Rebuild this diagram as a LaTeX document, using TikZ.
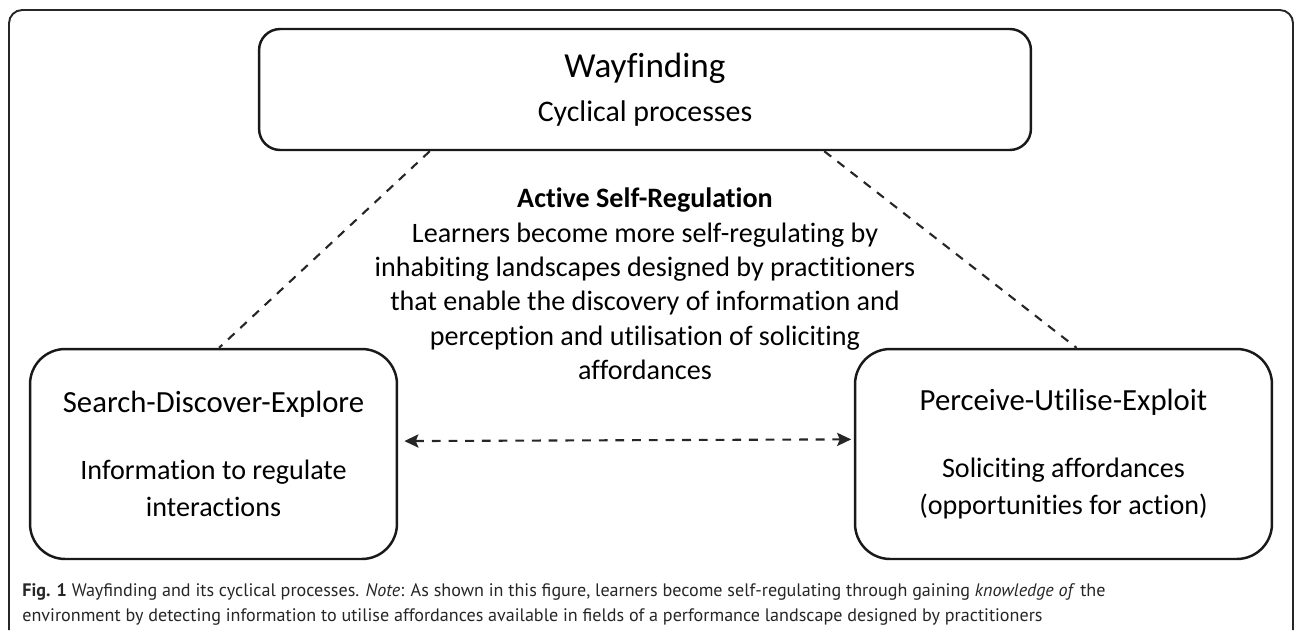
\documentclass[tikz,border=0pt]{standalone}
\usepackage{fontspec}
\setmainfont{Carlito}[Ligatures=NoCommon]
\newfontfamily\captionfont{PT Sans}
\usetikzlibrary{arrows.meta}

\begin{document}
\begin{tikzpicture}[x=0.02cm, y=-0.02cm,
    procbox/.style={draw=black!90, line width=1.4pt, align=center, inner sep=0pt},
    link/.style={draw=black!85, line width=1.2pt, dash pattern=on 5pt off 4.5pt}]

        \useasboundingbox (0,0) rectangle (1295,630);

        % moldura
        \draw[line width=1.1pt, draw=black!85, rounded corners=7.5pt] (9,630) -- (9,10) -- (1293,10) -- (1293,630);

        % caixas
        \node[procbox, rounded corners=12pt, minimum width=15.44cm, minimum height=2.42cm,
              font=\fontsize{17}{20}\selectfont] (W) at (645,89.5)
              {{\fontsize{20}{24}\selectfont Wayfinding}\\[5pt]Cyclical processes};
        \node[procbox, rounded corners=20pt, minimum width=7.34cm, minimum height=4.2cm,
              font=\fontsize{16}{21}\selectfont] (S) at (213.5,454)
              {{\fontsize{17.5}{21}\selectfont Search-Discover-Explore}\\[17pt]Information to regulate\\interactions};
        \node[procbox, rounded corners=20pt, minimum width=8.34cm, minimum height=4.2cm,
              font=\fontsize{16}{21}\selectfont] (P) at (1063.5,454)
              {{\fontsize{17.5}{21}\selectfont Perceive-Utilise-Exploit}\\[17pt]Soliciting affordances\\(opportunities for action)};

        % texto central
        \node[font=\fontsize{16}{19.6}\selectfont, align=center, inner sep=0pt] (A) at (645,284)
              {\textbf{Active Self-Regulation}\\Learners become more self-regulating by\\inhabiting landscapes designed by practitioners\\that enable the discovery of information and\\perception and utilisation of soliciting\\affordances};

        % ligacoes
        \draw[link] (W.196.7) -- (S.87.5);
        \draw[link] (W.341.9) -- (P.83.75);
        \draw[link, {Stealth[length=8pt,width=7.5pt,inset=1.5pt]}-{Stealth[length=8pt,width=7.5pt,inset=1.5pt]},
              shorten <=3.5pt, shorten >=1.5pt] (S.4.36) -- (P.176.16);

        % legenda
        \node[anchor=north west, inner sep=0pt, align=left, text=black!85,
              font=\captionfont\fontsize{10.3}{14.6}\selectfont] (F) at (22,583)
              {\textbf{Fig. 1} Wayfinding and its cyclical processes. \textit{Note}: As shown in this figure, learners become self-regulating through gaining \textit{knowledge of} the\\environment by detecting information to utilise affordances available in fields of a performance landscape designed by practitioners};
    \end{tikzpicture}
\end{document}
